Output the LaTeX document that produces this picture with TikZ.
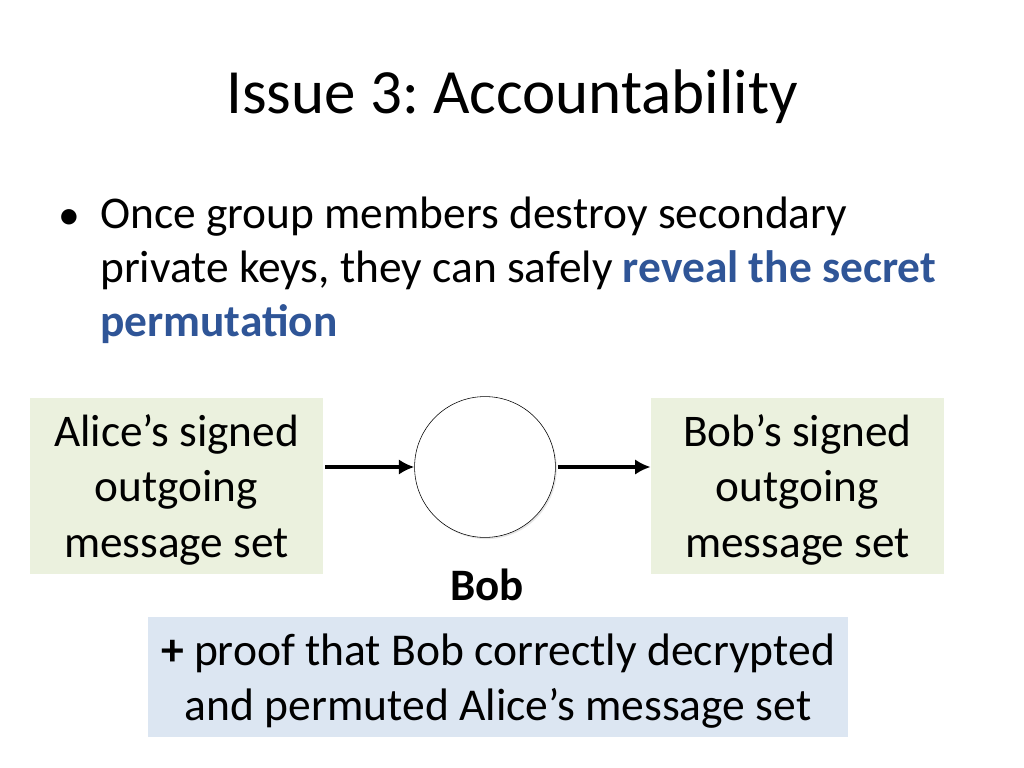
\documentclass[tikz,border=0pt]{standalone}
\usepackage{fontspec}
\setmainfont{Carlito}
\frenchspacing
\usetikzlibrary{arrows.meta,positioning,shadows}
\definecolor{msggreen}{RGB}{235,241,222}
\definecolor{proofblue}{RGB}{220,230,242}
\definecolor{keyblue}{RGB}{47,85,151}

\begin{document}
\begin{tikzpicture}
        [x=0.025cm,y=-0.025cm,every node/.style={inner sep=0pt}]
        \useasboundingbox (0,0) rectangle (1024,768);
        \tikzset{MsgStyle/.style =   {fill           = msggreen,
                                  minimum width  = 7.33cm,
                                  minimum height = 4.4cm,
                                  text depth     = 0pt,
                                  align          = center,
                                  font           = \fontsize{32.2}{39.6}\selectfont},
                 ArrowStyle/.style = {-{Latex[length=11pt,width=11pt]},
                                  line width     = 2.2pt}}
        \node (title) at (512,97) {\fontsize{44.8}{54}\selectfont Issue 3: Accountability};
        \node[anchor=base west] (dot) at (58,229) {\fontsize{31}{38.4}\selectfont\textbullet};
        \node[anchor=base west,align=left,font=\fontsize{32.3}{38.4}\selectfont] (text) at (100,336)
            {Once group members destroy secondary\\
             private keys, they can safely \textcolor{keyblue}{\textbf{reveal the secret}}\\
             \textcolor{keyblue}{\textbf{permutation}}};
        \node[MsgStyle] (Alice) at (176.5,486) {Alice’s signed\\outgoing\\message set};
        \node[MsgStyle] (Bob) at (797.5,486) {Bob’s signed\\outgoing\\message set};
        \node[circle,draw,fill=white,minimum size=3.52cm,
              drop shadow={opacity=0.2,shadow xshift=1pt,shadow yshift=-1.2pt}] (Mix) at (485,467) {};
        \node[font=\fontsize{32}{38}\selectfont\bfseries] (MixName) at (487,585) {Bob};
        \node[fill=proofblue,minimum width=17.5cm,minimum height=3cm,align=center,text depth=0pt,
              font=\fontsize{32.4}{39.2}\selectfont] (Proof) at (498,677)
            {\textbf{+} proof that Bob correctly decrypted\\and permuted Alice’s message set};
        \draw[ArrowStyle] (Alice.east |- Mix.west) ++(2,0) -- (Mix.west);
        \draw[ArrowStyle] (Mix.east) ++(2,0) -- (Bob.west |- Mix.east);
    \end{tikzpicture}
\end{document}
